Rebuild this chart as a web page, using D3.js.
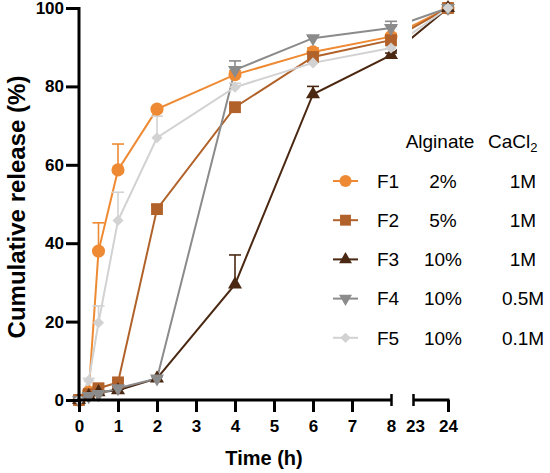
<!DOCTYPE html>
<html>
<head>
<meta charset="utf-8">
<script src="https://cdn.jsdelivr.net/npm/d3@7/dist/d3.min.js"></script>
<style>
  html, body { margin: 0; padding: 0; background: #ffffff; }
  svg { display: block; }
  text { font-family: "Liberation Sans", Arial, Helvetica, sans-serif; }
</style>
</head>
<body>
<svg id="chart" width="550" height="473"></svg>
<script>
// ---------- data ----------
const times = [0, 0.25, 0.5, 1, 2, 4, 6, 8, 24];
const seriesNames = ["F1", "F2", "F3", "F4", "F5"];
const alginate = ["2%", "5%", "10%", "10%", "10%"];
const cacl2 = ["1M", "1M", "1M", "0.5M", "0.1M"];
const f1 = [0, 2, 38, 58.7, 74.2, 83, 88.8, 92.7, 100];
const f1Err = [0, 0.5, 7.2, 6.6, 0.5, 1, 1, 0.5, 0];
const f2 = [0, 1.5, 3, 4.5, 48.7, 74.7, 87.5, 91.8, 100];
const f2Err = [0, 0.3, 0.5, 0.5, 1, 0.8, 1, 0.8, 0];
const f3 = [0, 1, 2, 2.5, 5.5, 29.5, 78, 88, 100];
const f3Err = [0, 0.2, 0.3, 0.3, 0.5, 7.5, 2, 0.5, 0];
const f4 = [0, 1, 1.5, 3, 5.5, 84.2, 92.3, 94.9, 100];
const f4Err = [0, 0.2, 0.3, 0.5, 0.5, 2.3, 0.5, 1.7, 0];
const f5 = [0, 5, 19.7, 45.8, 66.9, 79.8, 86, 89.8, 100];
const f5Err = [0, 0.5, 4.3, 7.2, 5.5, 1, 0.5, 0.5, 0];
const yTicks = [0, 20, 40, 60, 80, 100];
const xTicksA = [0, 1, 2, 3, 4, 5, 6, 7, 8];
const xTicksB = [23, 24];

// ---------- styles ----------
const colors = ["#EE8A33", "#B1622A", "#4A2812", "#8B8B8B", "#D2D2D2"];
const symbols = [
  {type: d3.symbolCircle, size: 135, rot: 0},
  {type: d3.symbolSquare, size: 140, rot: 0},
  {type: d3.symbolTriangle, size: 85, rot: 0},
  {type: d3.symbolTriangle, size: 85, rot: 180},
  {type: d3.symbolSquare, size: 62, rot: 45}
];
const values = [f1, f2, f3, f4, f5];
const errs = [f1Err, f2Err, f3Err, f4Err, f5Err];

const svg = d3.select("#chart");
const x = d3.scaleLinear().domain([0, 8, 23, 24]).range([79, 391, 413, 448]);
const y = d3.scaleLinear().domain([0, 100]).range([400, 8]);

// clip for lines (axis break gap)
const defs = svg.append("defs");
const cp = defs.append("clipPath").attr("id", "gap");
cp.append("rect").attr("x", 0).attr("y", 0).attr("width", 397).attr("height", 473);
cp.append("rect").attr("x", 412).attr("y", 0).attr("width", 138).attr("height", 473);

const line = d3.line().x(d => x(d[0])).y(d => y(d[1]));

// lines
values.forEach((vals, i) => {
  const pts = times.map((t, j) => [t, vals[j]]);
  svg.append("path")
    .attr("d", line(pts))
    .attr("fill", "none")
    .attr("stroke", colors[i])
    .attr("stroke-width", 2)
    .attr("clip-path", "url(#gap)");
});

// error bars (upper only)
values.forEach((vals, i) => {
  const g = svg.append("g").attr("stroke", colors[i]).attr("stroke-width", 1.6);
  times.forEach((t, j) => {
    const e = errs[i][j];
    if (e <= 0) return;
    const cx = x(t), y0 = y(vals[j]), y1 = y(vals[j] + e);
    g.append("line").attr("x1", cx).attr("x2", cx).attr("y1", y0).attr("y2", y1);
    g.append("line").attr("x1", cx - 6).attr("x2", cx + 6).attr("y1", y1).attr("y2", y1);
  });
});

// markers
values.forEach((vals, i) => {
  const s = symbols[i];
  const path = d3.symbol().type(s.type).size(s.size)();
  svg.append("g").selectAll("path")
    .data(times.map((t, j) => [t, vals[j]]))
    .join("path")
    .attr("d", path)
    .attr("fill", colors[i])
    .attr("transform", d => `translate(${x(d[0])},${y(d[1])}) rotate(${s.rot})`);
});

// ---------- axes ----------
const axisW = 3;
const yAxis = d3.axisLeft(y).tickValues(yTicks).tickSize(13).tickPadding(2);
const gy = svg.append("g").attr("transform", "translate(79,0)").call(yAxis);
gy.select(".domain").remove();
gy.selectAll(".tick line").attr("stroke", "#000").attr("stroke-width", axisW);
gy.selectAll(".tick text").attr("font-size", 17).attr("font-weight", "bold").attr("fill", "#000")
  .attr("font-family", "'Liberation Sans', Arial, sans-serif");
svg.append("line").attr("x1", 79).attr("x2", 79).attr("y1", y(0) + 1.5).attr("y2", y(100) - 1)
  .attr("stroke", "#000").attr("stroke-width", axisW);

function styleX(g) {
  g.select(".domain").remove();
  g.selectAll(".tick line").attr("stroke", "#000").attr("stroke-width", axisW);
  g.selectAll(".tick text").attr("font-size", 17).attr("font-weight", "bold").attr("fill", "#000")
    .attr("font-family", "'Liberation Sans', Arial, sans-serif");
}
const xAxisA = d3.axisBottom(x).tickValues(xTicksA).tickSize(12).tickPadding(8).tickFormat(d3.format("d"));
const gxa = svg.append("g").attr("transform", "translate(0,400)").call(xAxisA);
styleX(gxa);
gxa.selectAll(".tick").filter(d => d === 8).select("line").attr("y1", -6).attr("y2", 6).attr("stroke-width", 2.5);
const xAxisB = d3.axisBottom(x).tickValues(xTicksB).tickSize(12).tickPadding(8).tickFormat(d3.format("d"));
const gxb = svg.append("g").attr("transform", "translate(0,400)").call(xAxisB);
styleX(gxb);
gxb.selectAll(".tick").filter(d => d === 23).select("line").attr("y1", -6).attr("y2", 6).attr("stroke-width", 2.5);
gxb.selectAll(".tick").filter(d => d === 23).select("text").attr("dx", 2);
svg.append("line").attr("x1", 77.5).attr("x2", x(8)).attr("y1", 400).attr("y2", 400)
  .attr("stroke", "#000").attr("stroke-width", axisW);
svg.append("line").attr("x1", x(23)).attr("x2", x(24) + 1.5).attr("y1", 400).attr("y2", 400)
  .attr("stroke", "#000").attr("stroke-width", axisW);

// axis titles
svg.append("text").attr("x", 264).attr("y", 465).attr("text-anchor", "middle")
  .attr("font-size", 20).attr("font-weight", "bold").text("Time (h)");
svg.append("text").attr("transform", "translate(25,207) rotate(-90)").attr("text-anchor", "middle")
  .attr("font-size", 24).attr("font-weight", "bold").text("Cumulative release (%)");

// ---------- legend ----------
const leg = svg.append("g").attr("font-size", 19).attr("fill", "#000");
leg.append("text").attr("x", 440).attr("y", 148).attr("text-anchor", "middle").text("Alginate");
const cac = leg.append("text").attr("x", 488).attr("y", 148).attr("text-anchor", "start");
cac.append("tspan").text("CaCl");
cac.append("tspan").attr("font-size", 13).attr("dy", 4).text("2");

seriesNames.forEach((name, i) => {
  const cy = 181 + i * 39.2;
  const row = leg.append("g");
  row.append("line").attr("x1", 333).attr("x2", 358).attr("y1", cy).attr("y2", cy)
    .attr("stroke", colors[i]).attr("stroke-width", 2);
  const s = symbols[i];
  row.append("path").attr("d", d3.symbol().type(s.type).size(s.size * 0.85)())
    .attr("fill", colors[i]).attr("transform", `translate(345.5,${cy}) rotate(${s.rot})`);
  row.append("text").attr("x", 377).attr("y", cy + 6.8).text(name);
  row.append("text").attr("x", 443).attr("y", cy + 6.8).attr("text-anchor", "middle").text(alginate[i]);
  row.append("text").attr("x", 523).attr("y", cy + 6.8).attr("text-anchor", "middle").text(cacl2[i]);
});
</script>
</body>
</html>
